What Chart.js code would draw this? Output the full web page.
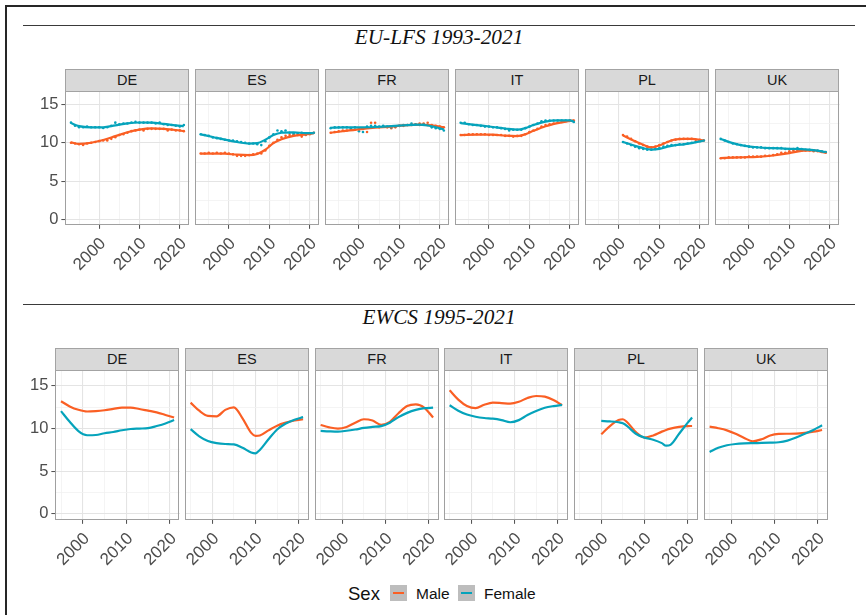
<!DOCTYPE html>
<html>
<head>
<meta charset="utf-8">
<script src="https://cdn.jsdelivr.net/npm/chart.js@4.4.1/dist/chart.umd.min.js"></script>
<style>
  html, body { margin: 0; padding: 0; background: #fff; }
  #fig { position: relative; width: 866px; height: 615px; overflow: hidden; background: #fff;
         font-family: "Liberation Sans", Arial, sans-serif; }
  .frame { position: absolute; background: #262626; }
  .rule { position: absolute; left: 23px; width: 832px; height: 1px; background: #3a3a3a; }
  .ttl { position: absolute; left: 23px; width: 832px; text-align: center; line-height: 20px;
         font-family: "Liberation Serif", "Times New Roman", serif; font-style: italic; font-size: 21.3px; color: #111; }
  .strip { position: absolute; box-sizing: border-box; background: #d9d9d9; border: 1px solid #a3a3a3;
           text-align: center; font-size: 14.5px; line-height: 20px; color: #1a1a1a; }
  .pc { position: absolute; }
  .pc canvas { display: block; }
  .lg { position: absolute; line-height: 20px; color: #111; white-space: nowrap; }
  .key { position: absolute; width: 17px; height: 16px; background: #bdbdbd; }
  .key i { position: absolute; left: 3px; top: 7px; width: 11px; height: 2px; }
</style>
</head>
<body>
<div id="fig">
  <div class="frame" style="left:5px;top:5px;width:861px;height:2px"></div>
  <div class="frame" style="left:5px;top:5px;width:2px;height:610px"></div>
  <div class="rule" style="top:25px"></div>
  <div class="ttl" style="top:27px">EU-LFS 1993-2021</div>
  <div class="rule" style="top:304px"></div>
  <div class="ttl" style="top:307px">EWCS 1995-2021</div>

  <div class="lg" style="left:348px;top:584px;font-size:18.5px">Sex</div>
  <div class="key" style="left:390px;top:585px"><i style="background:#FA5F24"></i></div>
  <div class="lg" style="left:416px;top:584px;font-size:15.5px">Male</div>
  <div class="key" style="left:458px;top:585px"><i style="background:#05A3BB"></i></div>
  <div class="lg" style="left:484px;top:584px;font-size:15.5px">Female</div>
</div>
<script>
// ---------- categories and ticks ----------
const countries = ['DE', 'ES', 'FR', 'IT', 'PL', 'UK'];
const sexes = ['Male', 'Female'];
const xGridYears = [1995, 2000, 2005, 2010, 2015, 2020];
const xLabelYears = [2000, 2010, 2020];
const yGridValues = [0, 2.5, 5, 7.5, 10, 12.5, 15];
const yLabelValues = [0, 5, 10, 15];

// ---------- EU-LFS yearly observations ----------
const lfsYears = [1993, 1994, 1995, 1996, 1997, 1998, 1999, 2000, 2001, 2002, 2003, 2004, 2005, 2006, 2007,
                  2008, 2009, 2010, 2011, 2012, 2013, 2014, 2015, 2016, 2017, 2018, 2019, 2020, 2021];
const lfsYearsPL = [2001, 2002, 2003, 2004, 2005, 2006, 2007, 2008, 2009, 2010, 2011,
                    2012, 2013, 2014, 2015, 2016, 2017, 2018, 2019, 2020, 2021];
const lfsYearsUK = [1993, 1994, 1995, 1996, 1997, 1998, 1999, 2000, 2001, 2002, 2003, 2004, 2005, 2006,
                    2007, 2008, 2009, 2010, 2011, 2012, 2013, 2014, 2015, 2016, 2017, 2018, 2019];

const lfsMaleDE   = [10.0, 9.9, 9.8, 9.7, 9.9, 10.0, 10.1, 10.2, 10.3, 10.3, 10.5, 10.7, 11.0, 11.1, 11.3, 11.5, 11.6, 11.7, 11.6, 11.8, 11.8, 11.8, 11.8, 11.8, 11.6, 11.7, 11.6, 11.6, 11.5];
const lfsFemaleDE = [12.6, 12.2, 12.0, 12.0, 12.1, 12.0, 12.0, 12.0, 11.9, 12.0, 12.2, 12.6, 12.4, 12.5, 12.5, 12.6, 12.7, 12.6, 12.6, 12.6, 12.6, 12.5, 12.6, 12.4, 12.3, 12.3, 12.2, 12.1, 12.3];
const lfsMaleES   = [8.6, 8.6, 8.7, 8.6, 8.7, 8.6, 8.7, 8.6, 8.5, 8.3, 8.3, 8.3, 8.4, 8.5, 8.6, 8.6, 9.0, 9.6, 10.0, 10.4, 10.7, 10.9, 11.0, 11.1, 11.0, 10.8, 11.0, 11.1, 11.3];
const lfsFemaleES = [11.1, 11.0, 10.9, 10.7, 10.6, 10.5, 10.4, 10.3, 10.3, 10.2, 10.1, 10.0, 9.9, 9.9, 9.8, 9.7, 10.2, 10.7, 11.1, 11.6, 11.5, 11.6, 11.3, 11.2, 11.2, 11.3, 11.1, 11.2, 11.3];
const lfsMaleFR   = [11.3, 11.4, 11.5, 11.6, 11.6, 11.7, 11.7, 11.8, 11.8, 11.4, 12.6, 12.6, 12.0, 12.1, 12.0, 11.9, 12.0, 12.2, 12.2, 12.3, 12.3, 12.4, 12.5, 12.5, 12.6, 12.3, 12.2, 12.1, 12.0];
const lfsFemaleFR = [11.9, 12.0, 12.0, 12.0, 12.0, 11.9, 12.0, 11.5, 11.4, 12.1, 12.2, 12.2, 12.1, 12.2, 12.1, 12.0, 12.1, 12.2, 12.3, 12.3, 12.5, 12.4, 12.3, 12.4, 12.3, 12.0, 11.9, 11.8, 11.6];
const lfsMaleIT   = [11.0, 11.0, 11.1, 11.1, 11.1, 11.1, 11.1, 11.0, 11.0, 11.0, 11.0, 10.9, 10.9, 10.8, 10.9, 10.9, 11.1, 11.4, 11.6, 11.8, 12.1, 12.3, 12.4, 12.5, 12.6, 12.7, 12.8, 12.9, 12.9];
const lfsFemaleIT = [12.6, 12.6, 12.4, 12.3, 12.3, 12.2, 12.1, 12.1, 12.0, 12.0, 11.9, 11.8, 11.6, 11.7, 11.7, 11.7, 11.9, 12.1, 12.3, 12.5, 12.8, 12.9, 12.9, 12.9, 12.9, 12.9, 12.9, 12.9, 12.7];
const lfsMalePL   = [11.0, 10.8, 10.5, 10.2, 9.9, 9.7, 9.5, 9.4, 9.5, 9.7, 9.9, 10.1, 10.3, 10.4, 10.5, 10.5, 10.5, 10.5, 10.4, 10.4, 10.3];
const lfsFemalePL = [10.1, 9.9, 9.7, 9.5, 9.3, 9.2, 9.1, 9.1, 9.2, 9.3, 9.5, 9.6, 9.7, 9.7, 9.8, 9.8, 9.9, 10.0, 10.1, 10.2, 10.3];
const lfsMaleUK   = [8.0, 8.0, 8.1, 8.1, 8.1, 8.1, 8.1, 8.2, 8.2, 8.2, 8.2, 8.3, 8.3, 8.4, 8.5, 8.7, 8.7, 8.9, 9.0, 9.0, 9.0, 9.0, 9.0, 8.9, 8.9, 8.8, 8.7];
const lfsFemaleUK = [10.5, 10.3, 10.1, 9.9, 9.8, 9.7, 9.6, 9.5, 9.4, 9.4, 9.4, 9.3, 9.3, 9.3, 9.3, 9.3, 9.2, 9.2, 9.2, 9.3, 9.2, 9.1, 9.1, 9.0, 9.0, 8.9, 8.8];

// ---------- EU-LFS smoothed trends ----------
const lfsTrendYearsDE = [1993, 1995, 1998, 2001, 2004, 2007, 2010, 2013, 2016, 2019, 2021];
const lfsTrendMaleDE   = [10.05, 9.85, 10.0, 10.35, 10.85, 11.35, 11.7, 11.85, 11.8, 11.65, 11.5];
const lfsTrendFemaleDE = [12.55, 12.15, 12.0, 12.0, 12.25, 12.5, 12.62, 12.6, 12.45, 12.25, 12.15];
const lfsTrendYearsES = [1993, 1996, 1999, 2002, 2005, 2007, 2009, 2011, 2013, 2016, 2019, 2021];
const lfsTrendMaleES   = [8.6, 8.6, 8.58, 8.45, 8.4, 8.55, 9.1, 9.95, 10.45, 10.9, 11.1, 11.25];
const lfsTrendFemaleES = [11.1, 10.75, 10.4, 10.1, 9.9, 9.95, 10.4, 11.0, 11.3, 11.35, 11.25, 11.25];
const lfsTrendYearsFR = [1993, 1996, 2000, 2004, 2008, 2012, 2015, 2018, 2021];
const lfsTrendMaleFR   = [11.3, 11.5, 11.75, 11.95, 12.1, 12.3, 12.35, 12.25, 12.0];
const lfsTrendFemaleFR = [11.95, 12.0, 12.0, 12.05, 12.15, 12.3, 12.35, 12.15, 11.75];
const lfsTrendYearsIT = [1993, 1997, 2001, 2004, 2007, 2009, 2011, 2014, 2017, 2020, 2021];
const lfsTrendMaleIT   = [11.0, 11.05, 11.05, 10.92, 10.87, 11.1, 11.55, 12.15, 12.55, 12.85, 12.9];
const lfsTrendFemaleIT = [12.55, 12.3, 12.05, 11.85, 11.7, 11.9, 12.3, 12.75, 12.9, 12.9, 12.75];
const lfsTrendYearsPL = [2001, 2004, 2006, 2008, 2010, 2012, 2014, 2016, 2018, 2021];
const lfsTrendMalePL   = [10.95, 10.2, 9.75, 9.4, 9.65, 10.1, 10.45, 10.5, 10.5, 10.3];
const lfsTrendFemalePL = [10.1, 9.6, 9.3, 9.12, 9.2, 9.5, 9.7, 9.8, 9.95, 10.3];
const lfsTrendYearsUK = [1993, 1996, 1999, 2002, 2006, 2010, 2013, 2016, 2019];
const lfsTrendMaleUK   = [8.02, 8.08, 8.12, 8.18, 8.35, 8.65, 8.95, 9.0, 8.7];
const lfsTrendFemaleUK = [10.5, 9.95, 9.6, 9.42, 9.3, 9.22, 9.18, 9.05, 8.8];

// ---------- EWCS smoothed trends ----------
const ewcsYearsDE = [1995, 1997, 1999, 2001, 2003, 2005, 2007, 2009, 2011, 2013, 2015, 2017, 2019, 2021];
const ewcsMaleDE   = [13.2, 12.6, 12.2, 12.0, 12.05, 12.15, 12.3, 12.45, 12.45, 12.3, 12.1, 11.9, 11.6, 11.3];
const ewcsFemaleDE = [12.05, 10.8, 9.7, 9.22, 9.25, 9.45, 9.6, 9.8, 9.95, 10.0, 10.05, 10.3, 10.6, 11.0];
const ewcsYearsES = [1995, 1997, 1999, 2001, 2003, 2005, 2007, 2009, 2010, 2011, 2013, 2015, 2017, 2019, 2021];
const ewcsMaleES   = [13.05, 12.1, 11.5, 11.45, 12.2, 12.5, 11.2, 9.5, 9.15, 9.2, 9.8, 10.35, 10.7, 10.95, 11.1];
const ewcsFemaleES = [9.95, 9.1, 8.55, 8.3, 8.2, 8.15, 7.75, 7.2, 7.1, 7.5, 8.75, 9.9, 10.6, 11.05, 11.35];
const ewcsYearsFR = [1995, 1997, 1999, 2001, 2003, 2005, 2007, 2009, 2011, 2013, 2015, 2017, 2019, 2021];
const ewcsMaleFR   = [10.43, 10.15, 10.0, 10.2, 10.7, 11.1, 10.95, 10.45, 10.8, 11.8, 12.65, 12.85, 12.45, 11.3];
const ewcsFemaleFR = [9.73, 9.68, 9.65, 9.75, 9.9, 10.08, 10.2, 10.3, 10.7, 11.35, 11.85, 12.2, 12.4, 12.46];
const ewcsYearsIT = [1995, 1997, 1999, 2001, 2003, 2005, 2007, 2009, 2011, 2013, 2015, 2017, 2019, 2021];
const ewcsMaleIT   = [14.5, 13.4, 12.65, 12.4, 12.8, 13.05, 13.0, 12.93, 13.15, 13.6, 13.83, 13.75, 13.35, 12.75];
const ewcsFemaleIT = [12.75, 12.1, 11.65, 11.4, 11.25, 11.17, 11.0, 10.75, 11.0, 11.6, 12.07, 12.45, 12.65, 12.78];
const ewcsYearsPL = [2000, 2002, 2004, 2005, 2006, 2008, 2010, 2012, 2014, 2015, 2016, 2018, 2020, 2021];
const ewcsMalePL   = [9.34, 10.3, 11.0, 11.1, 10.75, 9.6, 8.95, 9.2, 9.65, 9.85, 10.0, 10.2, 10.3, 10.31];
const ewcsFemalePL = [10.9, 10.85, 10.75, 10.63, 10.3, 9.4, 8.95, 8.7, 8.3, 8.0, 8.1, 9.4, 10.7, 11.3];
const ewcsYearsUK = [1995, 1997, 1999, 2001, 2003, 2005, 2007, 2009, 2011, 2013, 2015, 2017, 2019, 2021];
const ewcsMaleUK   = [10.23, 10.05, 9.8, 9.4, 8.9, 8.52, 8.75, 9.2, 9.38, 9.4, 9.41, 9.5, 9.65, 9.84];
const ewcsFemaleUK = [7.27, 7.75, 8.05, 8.2, 8.27, 8.3, 8.32, 8.35, 8.4, 8.6, 8.95, 9.4, 9.85, 10.39];

// ---------- panel tables built from the arrays ----------
const lfsPanels = [
  { years: lfsYears,   male: lfsMaleDE, female: lfsFemaleDE, tYears: lfsTrendYearsDE, tMale: lfsTrendMaleDE, tFemale: lfsTrendFemaleDE },
  { years: lfsYears,   male: lfsMaleES, female: lfsFemaleES, tYears: lfsTrendYearsES, tMale: lfsTrendMaleES, tFemale: lfsTrendFemaleES },
  { years: lfsYears,   male: lfsMaleFR, female: lfsFemaleFR, tYears: lfsTrendYearsFR, tMale: lfsTrendMaleFR, tFemale: lfsTrendFemaleFR },
  { years: lfsYears,   male: lfsMaleIT, female: lfsFemaleIT, tYears: lfsTrendYearsIT, tMale: lfsTrendMaleIT, tFemale: lfsTrendFemaleIT },
  { years: lfsYearsPL, male: lfsMalePL, female: lfsFemalePL, tYears: lfsTrendYearsPL, tMale: lfsTrendMalePL, tFemale: lfsTrendFemalePL },
  { years: lfsYearsUK, male: lfsMaleUK, female: lfsFemaleUK, tYears: lfsTrendYearsUK, tMale: lfsTrendMaleUK, tFemale: lfsTrendFemaleUK }
];
const ewcsPanels = [
  { tYears: ewcsYearsDE, tMale: ewcsMaleDE, tFemale: ewcsFemaleDE },
  { tYears: ewcsYearsES, tMale: ewcsMaleES, tFemale: ewcsFemaleES },
  { tYears: ewcsYearsFR, tMale: ewcsMaleFR, tFemale: ewcsFemaleFR },
  { tYears: ewcsYearsIT, tMale: ewcsMaleIT, tFemale: ewcsFemaleIT },
  { tYears: ewcsYearsPL, tMale: ewcsMalePL, tFemale: ewcsFemalePL },
  { tYears: ewcsYearsUK, tMale: ewcsMaleUK, tFemale: ewcsFemaleUK }
];

// ---------- styling and layout ----------
const COLORS = { Male: '#FA5F24', Female: '#05A3BB' };
const FONT = '"Liberation Sans", Arial, sans-serif';
const rows = [
  { panels: lfsPanels,  left: 65, step: 129.9, w: 124, top: 91,  h: 134, stripTop: 69,
    xmin: 1991.6, xmax: 2022.4, ymin: -0.65, ymax: 16.72 },
  { panels: ewcsPanels, left: 55, step: 129.8, w: 124, top: 370, h: 150, stripTop: 348,
    xmin: 1993.7, xmax: 2022.3, ymin: -0.7, ymax: 16.88 }
];

// panel frame drawn over the data, like a facet border
const panelFrame = {
  id: 'panelFrame',
  afterDraw(chart) {
    const a = chart.chartArea, ctx = chart.ctx;
    ctx.save();
    ctx.strokeStyle = '#a0a0a0';
    ctx.lineWidth = 1;
    ctx.strokeRect(Math.round(a.left) + 0.5, Math.round(a.top) + 0.5,
                   Math.round(a.right - a.left) - 1, Math.round(a.bottom - a.top) - 1);
    ctx.restore();
  }
};

const toPoints = (xs, ys) => xs.map((x, i) => ({ x: x, y: ys[i] }));

function makeConfig(panel, row, first) {
  const datasets = [];
  const trend = { Male: panel.tMale, Female: panel.tFemale };
  sexes.forEach(sex => {
    datasets.push({
      label: sex, data: toPoints(panel.tYears, trend[sex]), showLine: true,
      borderColor: COLORS[sex], borderWidth: 2.2, pointRadius: 0,
      cubicInterpolationMode: 'monotone', order: sex === 'Female' ? 1 : 2
    });
  });
  if (panel.years) {
    const obs = { Male: panel.male, Female: panel.female };
    sexes.forEach(sex => {
      datasets.push({
        label: sex + ' obs', data: toPoints(panel.years, obs[sex]), showLine: false,
        pointRadius: 1.3, pointBorderWidth: 0, pointBackgroundColor: COLORS[sex],
        order: sex === 'Female' ? 3 : 4
      });
    });
  }
  const isMajorX = v => xLabelYears.includes(v);
  const isMajorY = v => yLabelValues.includes(v);
  return {
    type: 'scatter',
    data: { datasets },
    plugins: [panelFrame],
    options: {
      responsive: false, animation: false, events: [],
      layout: { padding: { left: 14, right: 10, top: 2, bottom: 4 } },
      plugins: { legend: { display: false }, tooltip: { enabled: false } },
      scales: {
        x: {
          type: 'linear', min: row.xmin, max: row.xmax,
          afterBuildTicks: s => { s.ticks = xGridYears.map(v => ({ value: v })); },
          border: { display: false },
          grid: {
            color: c => isMajorX(c.tick.value) ? '#e4e4e4' : '#f1f1f1',
            lineWidth: c => isMajorX(c.tick.value) ? 1.1 : 0.8,
            tickColor: c => isMajorX(c.tick.value) ? '#4d4d4d' : 'rgba(0,0,0,0)',
            tickLength: 4, tickWidth: 1
          },
          ticks: {
            autoSkip: false, minRotation: 45, maxRotation: 45, padding: 5, labelOffset: 4,
            color: '#4d4d4d', font: { family: FONT, size: 17 },
            callback: v => isMajorX(v) ? String(v) : ''
          }
        },
        y: {
          type: 'linear', min: row.ymin, max: row.ymax,
          afterBuildTicks: s => { s.ticks = yGridValues.map(v => ({ value: v })); },
          border: { display: false },
          grid: {
            color: c => isMajorY(c.tick.value) ? '#e4e4e4' : '#f1f1f1',
            lineWidth: c => isMajorY(c.tick.value) ? 1.1 : 0.8,
            tickColor: c => isMajorY(c.tick.value) ? '#4d4d4d' : 'rgba(0,0,0,0)',
            tickLength: 4, tickWidth: 1, drawTicks: first
          },
          ticks: {
            display: first, padding: 3,
            color: '#4d4d4d', font: { family: FONT, size: 16.5 },
            callback: v => isMajorY(v) ? String(v) : ''
          }
        }
      }
    }
  };
}

// Build one facet: size its canvas so the plot area fills the panel box exactly.
function buildPanel(fig, panel, row, idx) {
  const box = { x: Math.round(row.left + idx * row.step), y: row.top, w: row.w, h: row.h };
  const wrap = document.createElement('div');
  wrap.className = 'pc';
  fig.appendChild(wrap);
  let cw = box.w + 70, ch = box.h + 60, chart = null;
  for (let pass = 0; pass < 4; pass++) {
    if (chart) chart.destroy();
    wrap.innerHTML = '';
    const cv = document.createElement('canvas');
    cv.width = cw; cv.height = ch;
    wrap.appendChild(cv);
    chart = new Chart(cv, makeConfig(panel, row, idx === 0));
    const a = chart.chartArea;
    const dw = Math.round(box.w - (a.right - a.left));
    const dh = Math.round(box.h - (a.bottom - a.top));
    if (dw === 0 && dh === 0) break;
    cw += dw; ch += dh;
  }
  const a = chart.chartArea;
  wrap.style.left = Math.round(box.x - a.left) + 'px';
  wrap.style.top = Math.round(box.y - a.top) + 'px';

  const strip = document.createElement('div');
  strip.className = 'strip';
  strip.style.left = box.x + 'px';
  strip.style.top = row.stripTop + 'px';
  strip.style.width = box.w + 'px';
  strip.style.height = (row.top - row.stripTop + 1) + 'px';
  strip.textContent = countries[idx];
  fig.appendChild(strip);
}

const fig = document.getElementById('fig');
rows.forEach(row => row.panels.forEach((p, i) => buildPanel(fig, p, row, i)));
</script>
</body>
</html>
